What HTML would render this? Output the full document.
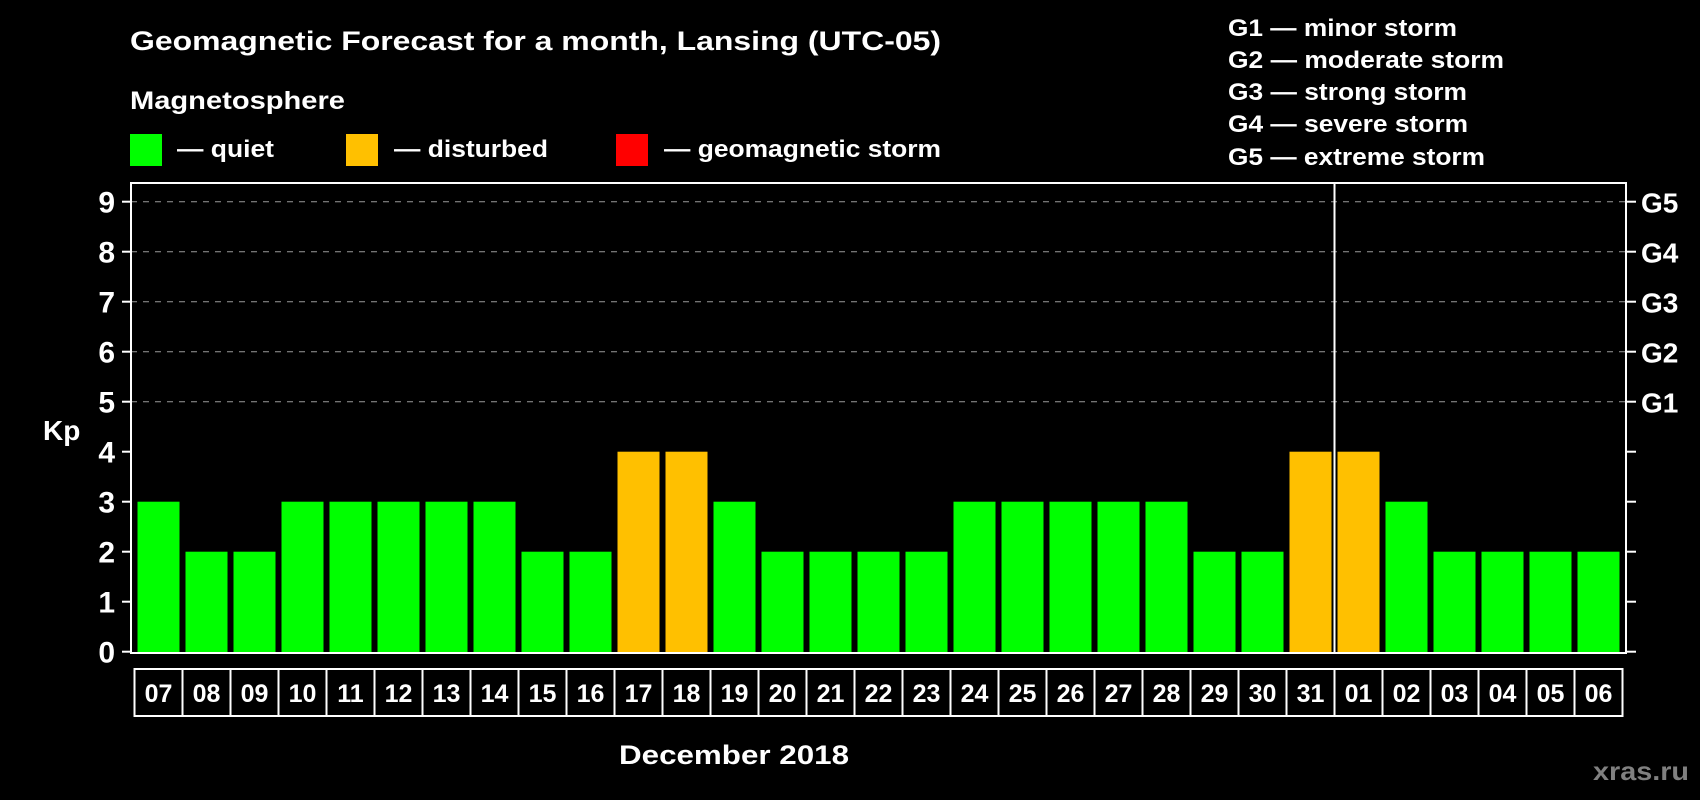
<!DOCTYPE html>
<html><head><meta charset="utf-8"><style>
html,body{margin:0;padding:0;background:#000;}
svg{display:block;font-family:"Liberation Sans",Arial,sans-serif;font-weight:bold;}
</style></head><body>
<svg id="chart" width="1700" height="800" xmlns="http://www.w3.org/2000/svg">
<rect width="1700" height="800" fill="#000"/>
<text x="130" y="50" fill="#fff" font-size="27" textLength="811" lengthAdjust="spacingAndGlyphs">Geomagnetic Forecast for a month, Lansing (UTC-05)</text>
<text x="130" y="109" fill="#fff" font-size="25" textLength="215" lengthAdjust="spacingAndGlyphs">Magnetosphere</text>
<rect x="130" y="134" width="32" height="32" fill="#00ff00"/>
<text x="177" y="157" fill="#fff" font-size="24" textLength="97" lengthAdjust="spacingAndGlyphs">— quiet</text>
<rect x="346" y="134" width="32" height="32" fill="#ffc000"/>
<text x="394" y="157" fill="#fff" font-size="24" textLength="154" lengthAdjust="spacingAndGlyphs">— disturbed</text>
<rect x="616" y="134" width="32" height="32" fill="#ff0000"/>
<text x="664" y="157" fill="#fff" font-size="24" textLength="277" lengthAdjust="spacingAndGlyphs">— geomagnetic storm</text>
<g fill="#fff" font-size="24">
<text x="1228" y="36" textLength="229" lengthAdjust="spacingAndGlyphs">G1 — minor storm</text>
<text x="1228" y="68" textLength="276" lengthAdjust="spacingAndGlyphs">G2 — moderate storm</text>
<text x="1228" y="100" textLength="239" lengthAdjust="spacingAndGlyphs">G3 — strong storm</text>
<text x="1228" y="132" textLength="240" lengthAdjust="spacingAndGlyphs">G4 — severe storm</text>
<text x="1228" y="165" textLength="257" lengthAdjust="spacingAndGlyphs">G5 — extreme storm</text>
</g>
<text x="43" y="440" fill="#fff" font-size="28">Kp</text>
<text x="619" y="764" fill="#fff" font-size="27" textLength="230" lengthAdjust="spacingAndGlyphs">December 2018</text>
<text x="1593" y="780" fill="#808080" font-size="26" textLength="96" lengthAdjust="spacingAndGlyphs">xras.ru</text>
<g id="grid"></g><g id="bars"></g><g id="axes"></g><g id="labels"></g>
</svg>
<script>
const days = ["07","08","09","10","11","12","13","14","15","16","17","18","19","20","21","22","23","24","25","26","27","28","29","30","31","01","02","03","04","05","06"];
const kp = [3,2,2,3,3,3,3,3,2,2,4,4,3,2,2,2,2,3,3,3,3,3,2,2,4,4,3,2,2,2,2];
const yTicks = [0,1,2,3,4,5,6,7,8,9];
const gLabels = ["","","","","","G1","G2","G3","G4","G5"];
const monthBreakIndex = 25;

const NS="http://www.w3.org/2000/svg";
const L=131,R=1626,T=183,B=653;
const X0=137.5, PITCH=48, BW=42;
function y(v){return 651.7-50*v;}
function x(i){return X0+i*PITCH;}
function mk(tag,attrs,parent){const e=document.createElementNS(NS,tag);for(const k in attrs)e.setAttribute(k,attrs[k]);parent.appendChild(e);return e;}
const grid=document.getElementById('grid'),bars=document.getElementById('bars'),axes=document.getElementById('axes'),labels=document.getElementById('labels');

yTicks.forEach((v,i)=>{
  if(v>=5){
    const g=mk('line',{x1:L,x2:R,y1:y(v),y2:y(v),stroke:'#9a9a9a','stroke-width':1,'stroke-dasharray':'6,6'},grid);
    
    
  }
  const t=mk('line',{x1:122,x2:L,y1:y(v),y2:y(v),stroke:'#fff','stroke-width':2},axes);
  
  
  const t2=mk('line',{x1:R,x2:R+10,y1:y(v),y2:y(v),stroke:'#fff','stroke-width':2},axes);
  
  
  const tl=mk('text',{x:115,y:y(v)+11,'text-anchor':'end',fill:'#fff','font-size':30},labels);
  tl.textContent=v;
  
  
  if(gLabels[i]){
    const gl=mk('text',{x:1641,y:y(v)+11,fill:'#fff','font-size':28},labels);
    gl.textContent=gLabels[i];
    
    
  }
});

kp.forEach((v,i)=>{
  const c = v>=5 ? '#ff0000' : (v>=4 ? '#ffc000' : '#00ff00');
  const b=mk('rect',{x:x(i),y:y(v),width:BW,height:B-y(v),fill:c},bars);
  
  
});

const fr=mk('rect',{x:L,y:T,width:R-L,height:B-T,fill:'none',stroke:'#fff','stroke-width':2},axes);


const bx=x(monthBreakIndex)-3;
const vl=mk('line',{x1:bx,x2:bx,y1:T,y2:B,stroke:'#fff','stroke-width':2},axes);



days.forEach((d,i)=>{
  const bxl=x(i)-3;
  const r=mk('rect',{x:bxl,y:669,width:PITCH,height:47,fill:'none',stroke:'#fff','stroke-width':2},labels);
  
  
  const t=mk('text',{x:bxl+PITCH/2,y:702,'text-anchor':'middle',fill:'#fff','font-size':25},labels);
  t.textContent=d;
  
  
});
</script>
</body></html>
